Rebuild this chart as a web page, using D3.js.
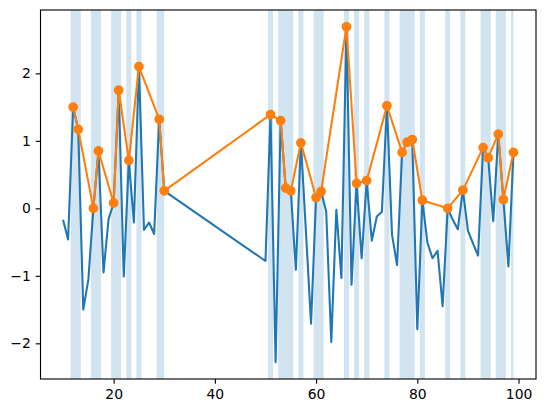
<!DOCTYPE html>
<html>
<head>
<meta charset="utf-8">
<script src="https://d3js.org/d3.v7.min.js"></script>
<style>
  body { margin: 0; background: #fff; }
  text { font-family: "DejaVu Sans", sans-serif; }
</style>
</head>
<body>
<div id="my_dataviz"></div>
<script>
var width = 546
var height = 413

// blue series
var xs = [10, 11, 12, 13, 14, 15, 16, 17, 18, 19, 20, 21, 22, 23, 24, 25, 26, 27, 28, 29, 30,
    50, 51, 52, 53, 54, 55, 56, 57, 58, 59, 60, 61, 62, 63, 64, 65, 66, 67, 68, 69, 70,
    71, 72, 73, 74, 75, 76, 77, 78, 79, 80, 81, 82, 83, 84, 85, 86, 87, 88, 89, 90,
    91, 92, 93, 94, 95, 96, 97, 98, 99]
var ys = [-0.17, -0.46, 1.50, 1.17, -1.50, -1.06, 0.00, 0.85, -0.95, -0.16, 0.08, 1.75, -1.01, 0.71, -0.21, 2.10, -0.32, -0.21, -0.38, 1.32, 0.26,
    -0.78, 1.39, -2.28, 1.30, 0.30, 0.26, -0.91, 0.97, -0.35, -1.71, 0.16, 0.25, -0.05, -1.98, -0.02, -1.03, 2.69, -1.13, 0.37, -0.74, 0.41,
    -0.48, -0.12, -0.05, 1.52, -0.39, -0.84, 0.83, 0.98, 1.02, -1.79, 0.12, -0.51, -0.74, -0.63, -1.45, 0.00, -0.17, -0.31, 0.27, -0.33,
    -0.52, -0.70, 0.90, 0.75, -0.19, 1.10, 0.13, -0.86, 0.83]

// highlighted points (orange)
var markX = [12, 13, 16, 17, 20, 21, 23, 25, 29, 30, 51, 53, 54, 55, 57, 60, 61, 66, 68, 70,
    74, 77, 78, 79, 81, 86, 89, 93, 94, 96, 97, 99]

// shaded bands
var spanStart = [11.5, 15.5, 19.5, 22.5, 24.5, 28.5, 50.5, 52.5, 56.5, 59.5, 65.5, 67.5, 69.5,
    73.5, 76.5, 80.5, 85.5, 88.5, 92.5, 95.5, 98.5]
var spanEnd = [13.5, 17.5, 21.5, 23.5, 25.5, 30, 51.5, 55.5, 57.5, 61.5, 66.5, 68.5, 70.5,
    74.5, 79.5, 81.5, 86.5, 89.5, 94.5, 97.5, 99]

var xTicks = [20, 40, 60, 80, 100]
var yTicks = [-2, -1, 0, 1, 2]

var blue = xs.map(function (d, i) { return { x: d, y: ys[i] } })
var marks = markX.map(function (d) { return { x: d, y: ys[xs.indexOf(d)] } })
var spans = spanStart.map(function (d, i) { return { a: d, b: spanEnd[i] } })

var margin = { left: 40.5, top: 10, right: 10, bottom: 34 }
var w = width - margin.left - margin.right
var h = height - margin.top - margin.bottom

var svg = d3.select("#my_dataviz")
    .append("svg")
    .attr("width", width)
    .attr("height", height)

var g = svg.append("g")
    .attr("transform", "translate(" + margin.left + "," + margin.top + ")")

// matplotlib style 5% padding
var xe = d3.extent(xs), ye = d3.extent(ys)
var xp = (xe[1] - xe[0]) * 0.05, yp = (ye[1] - ye[0]) * 0.05
var x = d3.scaleLinear().domain([xe[0] - xp, xe[1] + xp]).range([0, w])
var y = d3.scaleLinear().domain([ye[0] - yp, ye[1] + yp]).range([h, 0])

g.append("defs").append("clipPath").attr("id", "clip")
    .append("rect").attr("width", w).attr("height", h)

var plot = g.append("g").attr("clip-path", "url(#clip)")

plot.selectAll("rect.span")
    .data(spans)
    .enter()
    .append("rect")
    .attr("class", "span")
    .attr("x", function (d) { return x(d.a) })
    .attr("width", function (d) { return x(d.b) - x(d.a) })
    .attr("y", 0)
    .attr("height", h)
    .attr("fill", "#1f77b4")
    .attr("fill-opacity", 0.2)

var line = d3.line()
    .x(function (d) { return x(d.x) })
    .y(function (d) { return y(d.y) })

plot.append("path")
    .datum(blue)
    .attr("d", line)
    .attr("fill", "none")
    .attr("stroke", "#1f77b4")
    .attr("stroke-width", 2.08)
    .attr("stroke-linejoin", "round")

plot.append("path")
    .datum(marks)
    .attr("d", line)
    .attr("fill", "none")
    .attr("stroke", "#ff7f0e")
    .attr("stroke-width", 2.08)
    .attr("stroke-linejoin", "round")

// markers: 6pt face + 1pt edge
plot.selectAll("circle")
    .data(marks)
    .enter()
    .append("circle")
    .attr("cx", function (d) { return x(d.x) })
    .attr("cy", function (d) { return y(d.y) })
    .attr("r", 4.17)
    .attr("fill", "#ff7f0e")
    .attr("stroke", "#ff7f0e")
    .attr("stroke-width", 1.39)

// axes
var xAxis = g.append("g")
    .attr("transform", "translate(0," + h + ")")
    .call(d3.axisBottom(x).tickValues(xTicks).tickSize(4.86).tickPadding(4.86).tickFormat(d3.format("d")))
var yAxis = g.append("g")
    .call(d3.axisLeft(y).tickValues(yTicks).tickSize(4.86).tickPadding(4.86).tickFormat(function (d) { return d < 0 ? "\u2212" + (-d) : d }))

;[xAxis, yAxis].forEach(function (a) {
    a.select(".domain").remove()
    a.selectAll("line").attr("stroke", "#000").attr("stroke-width", 1.11)
    a.selectAll("text").attr("font-size", "13.9px").attr("fill", "#000")
        .style("font-family", "DejaVu Sans")
})

g.append("rect")
    .attr("width", w)
    .attr("height", h)
    .attr("fill", "none")
    .attr("stroke", "#000")
    .attr("stroke-width", 1.11)
</script>
</body>
</html>
